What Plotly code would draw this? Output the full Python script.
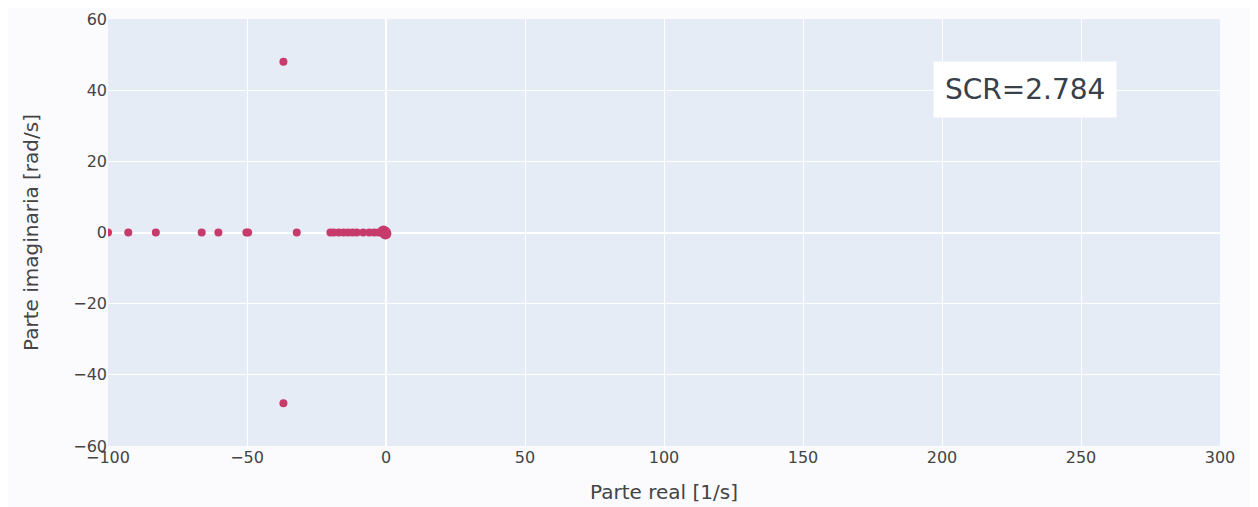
import plotly.graph_objects as go

# Pole locations
real_parts = [-100, -92.7, -82.8, -66.3, -60.3, -50.2, -49.6, -36.9, -36.9, -32.1,
              -20.0, -18.8, -17.0, -15.3, -13.6, -12.0, -10.5, -8.2, -6.0, -4.3, -2.8, -1.5]
imag_parts = [0, 0, 0, 0, 0, 0, 0, 48.0, -48.0, 0,
              0, 0, 0, 0, 0, 0, 0, 0, 0, 0, 0, 0]

# Cluster of poles right at the origin
origin_real = [-0.9, -0.5, -0.2]
origin_imag = [0.3, 0.0, -0.3]

annotation_text = "SCR=2.784"
x_ticks = [-100, -50, 0, 50, 100, 150, 200, 250, 300]
y_ticks = [-60, -40, -20, 0, 20, 40, 60]

color = "#C73B6C"
FONT = "DejaVu Sans"


def lab(v):
    return ("−" + str(-v)) if v < 0 else str(v)


fig = go.Figure()
fig.add_trace(go.Scatter(x=real_parts, y=imag_parts, mode="markers",
                         marker=dict(color=color, size=8), showlegend=False))
fig.add_trace(go.Scatter(x=origin_real, y=origin_imag, mode="markers",
                         marker=dict(color=color, size=12), showlegend=False))

fig.add_annotation(x=0.8247, y=0.836, xref="paper", yref="paper", xanchor="center", yanchor="middle",
                   text=annotation_text, showarrow=False,
                   font=dict(size=28, color="#38404a", family=FONT), bgcolor="white",
                   borderpad=11)

fig.update_layout(
    width=1258, height=507,
    margin=dict(l=100, r=46, t=11, b=69),
    paper_bgcolor="#FBFBFE",
    plot_bgcolor="#E5ECF6",
    font=dict(family=FONT, color="#444"),
    xaxis=dict(range=[-100, 300], tickvals=x_ticks, ticktext=[lab(v) for v in x_ticks],
               gridcolor="white", zerolinecolor="white", zerolinewidth=2, automargin=False,
               tickfont=dict(size=16, color="#444"),
               title=dict(text="Parte real [1/s]", font=dict(size=20, color="#444"), standoff=18)),
    yaxis=dict(range=[-60, 60], tickvals=y_ticks, ticktext=[lab(v) for v in y_ticks],
               gridcolor="white", zerolinecolor="white", zerolinewidth=2, automargin=False,
               tickfont=dict(size=16, color="#444"),
               title=dict(text="Parte imaginaria [rad/s]", font=dict(size=20, color="#444"), standoff=29)),
)

fig.write_html("out.html")
